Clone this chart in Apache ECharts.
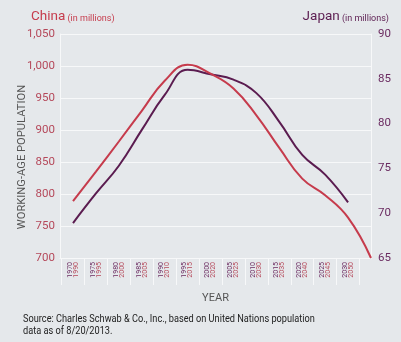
<!DOCTYPE html>
<html>
<head>
<meta charset="utf-8">
<script src="https://cdn.jsdelivr.net/npm/echarts@6/dist/echarts.min.js"></script>
<style>
html,body{margin:0;padding:0;background:#e5e8eb;}
#c{width:401px;height:342px;}
</style>
</head>
<body>
<div id="c"></div>
<script>
// Japan years (top row of x labels) and China years (bottom row)
const japanYears = [1970,1975,1980,1985,1990,1995,2000,2005,2010,2015,2020,2025,2030];
const chinaYears = [1990,1995,2000,2005,2010,2015,2020,2025,2030,2035,2040,2045,2050,2055];
// Working-age population, millions
const japanValues = [68.9,72.2,75.3,79.3,83.2,86.0,85.5,84.9,83.4,80.2,76.5,74.3,71.2];
const chinaValues = [789,835,882,930,977,1002,988,965,923,872,824,798,763,700];

const RED = '#c63b4c';
const PURPLE = '#5b1c50';
const RED_TXT = '#b5485a';
const PURPLE_TXT = '#6a2a60';
const FONT = "Roboto, 'Liberation Sans', sans-serif";

const sepTicks = [];
for (let i = 0; i < japanYears.length; i++) sepTicks.push(japanYears[i] - 2.5);
sepTicks.push(japanYears[japanYears.length - 1] + 2.5);

const chart = echarts.init(document.getElementById('c'), null, {renderer: 'canvas'});
chart.setOption({
  backgroundColor: '#e5e8eb',
  animation: false,
  title: [
    {
      left: 26, top: 5,
      text: '{a|China}{b| (in millions)}',
      textStyle: {rich: {
        a: {fontFamily: FONT, fontSize: 13.5, fontWeight: 'normal', color: RED},
        b: {fontFamily: FONT, fontSize: 9, fontWeight: 'normal', color: RED, verticalAlign: 'bottom', padding: [0,0,1,0]}
      }}
    },
    {
      right: 7, top: 5,
      text: '{a|Japan}{b| (in millions)}',
      textStyle: {rich: {
        a: {fontFamily: FONT, fontSize: 13.5, fontWeight: 'normal', color: PURPLE},
        b: {fontFamily: FONT, fontSize: 9, fontWeight: 'normal', color: PURPLE, verticalAlign: 'bottom', padding: [0,0,1,0]}
      }}
    }
  ],
  graphic: [
    {
      type: 'text', x: 23, y: 313, scaleX: 0.8, silent: true,
      style: {
        text: 'Source: Charles Schwab & Co., Inc., based on United Nations population\ndata as of 8/20/2013.',
        fontFamily: 'Roboto', fontSize: 11.5, lineHeight: 12, fill: '#222',
        textVerticalAlign: 'top', verticalAlign: 'top'
      }
    }
  ],
  grid: {left: 60, right: 30, top: 34, bottom: 84, containLabel: false},
  xAxis: [
    {
      type: 'value', gridIndex: 0, min: 1967.16, max: 2035,
      name: 'YEAR', nameLocation: 'middle', nameGap: 35, nameMoveOverlap: false,
      nameTextStyle: {fontFamily: FONT, fontSize: 11, color: '#555'},
      axisLine: {show: true, lineStyle: {color: '#f7f8f9', width: 1}},
      axisTick: {show: true, customValues: sepTicks, length: 27, lineStyle: {color: '#f7f8f9', width: 1}},
      splitLine: {show: false},
      axisLabel: {
        customValues: japanYears, rotate: 90, margin: 4,
        formatter: function (v) {
          const i = japanYears.indexOf(v);
          return '{j|' + v + '}\n{c|' + chinaYears[i] + '}';
        },
        rich: {
          j: {fontFamily: FONT, fontSize: 7, color: PURPLE_TXT, lineHeight: 6},
          c: {fontFamily: FONT, fontSize: 7, color: RED_TXT, lineHeight: 6}
        }
      }
    },
    {
      type: 'value', gridIndex: 0, min: 1987.16, max: 2055, show: false
    }
  ],
  yAxis: [
    {
      type: 'value', position: 'left', min: 700, max: 1050, interval: 50,
      name: 'WORKING-AGE POPULATION', nameLocation: 'middle', nameGap: 32, nameMoveOverlap: false,
      nameTextStyle: {fontFamily: FONT, fontSize: 11.2, color: '#555', padding: [0, 22, 0, 0]},
      axisLine: {show: true, lineStyle: {color: '#f7f8f9', width: 1}},
      axisTick: {show: false},
      splitLine: {show: true, lineStyle: {color: '#f7f8f9', width: 1.2}},
      axisLabel: {
        margin: 5, fontFamily: FONT, fontSize: 11.5, color: RED_TXT,
        formatter: function (v) { return v.toLocaleString('en-US'); }
      }
    },
    {
      type: 'value', position: 'right', min: 65, max: 90, interval: 5,
      axisLine: {show: true, lineStyle: {color: '#f7f8f9', width: 1}},
      axisTick: {show: false},
      splitLine: {show: false},
      axisLabel: {margin: 7, fontFamily: FONT, fontSize: 11.5, color: PURPLE_TXT}
    }
  ],
  series: [
    {
      name: 'Japan', type: 'line', xAxisIndex: 0, yAxisIndex: 1,
      data: japanYears.map((y, i) => [y, japanValues[i]]),
      smooth: 0.45, showSymbol: false,
      lineStyle: {color: PURPLE, width: 2}, itemStyle: {color: PURPLE}
    },
    {
      name: 'China', type: 'line', xAxisIndex: 1, yAxisIndex: 0,
      data: chinaYears.map((y, i) => [y, chinaValues[i]]),
      smooth: 0.45, showSymbol: false,
      lineStyle: {color: RED, width: 2}, itemStyle: {color: RED}
    }
  ]
});
</script>
</body>
</html>
